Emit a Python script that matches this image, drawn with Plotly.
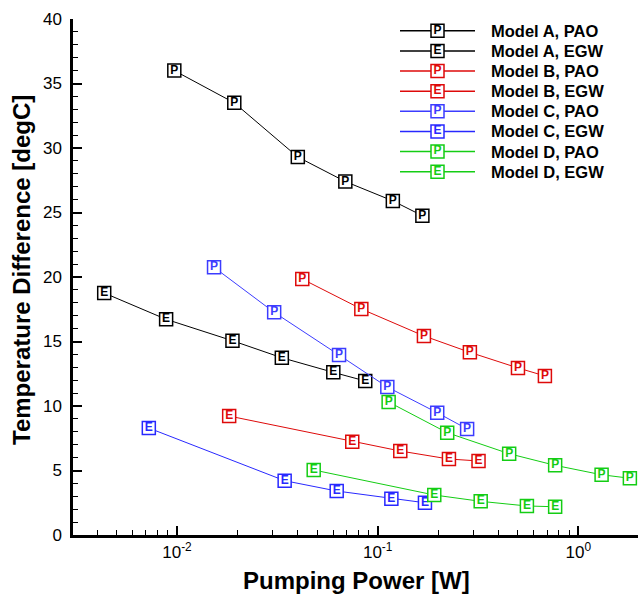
import plotly.graph_objects as go

# ---- data ----
series_names = ["Model A, PAO", "Model A, EGW", "Model B, PAO", "Model B, EGW",
                "Model C, PAO", "Model C, EGW", "Model D, PAO", "Model D, EGW"]
series_letters = ["P", "E", "P", "E", "P", "E", "P", "E"]

a_pao_x = [0.0097, 0.0193, 0.040, 0.069, 0.119, 0.167]
a_pao_y = [36.0, 33.5, 29.3, 27.4, 25.9, 24.75]
a_egw_x = [0.00434, 0.00883, 0.0189, 0.0333, 0.0601, 0.0867]
a_egw_y = [18.76, 16.72, 15.06, 13.74, 12.61, 11.94]
b_pao_x = [0.0421, 0.0829, 0.170, 0.288, 0.50, 0.681]
b_pao_y = [19.84, 17.52, 15.43, 14.16, 12.95, 12.33]
b_egw_x = [0.0182, 0.0747, 0.1296, 0.2265, 0.318]
b_egw_y = [9.22, 7.23, 6.51, 5.89, 5.74]
c_pao_x = [0.0153, 0.0305, 0.0642, 0.1117, 0.198, 0.279]
c_pao_y = [20.75, 17.26, 13.95, 11.47, 9.48, 8.22]
c_egw_x = [0.00724, 0.0344, 0.0625, 0.117, 0.172]
c_egw_y = [8.29, 4.21, 3.41, 2.81, 2.50]
d_pao_x = [0.1134, 0.222, 0.452, 0.766, 1.305, 1.805]
d_pao_y = [10.31, 7.93, 6.30, 5.40, 4.67, 4.40]
d_egw_x = [0.048, 0.1914, 0.326, 0.554, 0.766]
d_egw_y = [5.04, 3.10, 2.61, 2.25, 2.19]

x_tick_vals = [0.01, 0.1, 1]
x_tick_text = ["10<sup>-2</sup>", "10<sup>-1</sup>", "10<sup>0</sup>"]
y_tick_vals = [0, 5, 10, 15, 20, 25, 30, 35, 40]

series_x = [a_pao_x, a_egw_x, b_pao_x, b_egw_x, c_pao_x, c_egw_x, d_pao_x, d_egw_x]
series_y = [a_pao_y, a_egw_y, b_pao_y, b_egw_y, c_pao_y, c_egw_y, d_pao_y, d_egw_y]

# ---- styles ----
FONT = "Liberation Sans, Arial, sans-serif"
colors = ["rgb(0,0,0)", "rgb(0,0,0)", "rgb(222,10,10)", "rgb(222,10,10)",
          "rgb(60,60,255)", "rgb(40,40,255)", "rgb(20,205,20)", "rgb(20,205,20)"]

W, H = 638, 599
ML, MR, MT, MB = 73, 0, 19, 64
PW, PH = W - ML - MR, H - MT - MB


def px_to_paper_x(px):
    return (px - ML) / PW


def px_to_paper_y(py):
    return 1 - (py - MT) / PH


fig = go.Figure()

for name, letter, xs, ys, col in zip(series_names, series_letters, series_x, series_y, colors):
    fig.add_trace(go.Scatter(
        x=xs, y=ys, mode="lines+markers+text", name=name,
        text=[letter] * len(xs), textposition="middle center",
        textfont=dict(family=FONT, size=12, color=col, weight="bold"),
        line=dict(color=col, width=1),
        marker=dict(symbol="square", size=13, color="white",
                    line=dict(color=col, width=1.5)),
        cliponaxis=False, showlegend=False, xaxis="x", yaxis="y"))

# ---- custom legend on a helper axis (no visible lines/ticks) ----
for i, (name, letter, col) in enumerate(zip(series_names, series_letters, colors)):
    row = i + 1
    fig.add_trace(go.Scatter(
        x=[0, 1], y=[row, row], mode="lines",
        line=dict(color=col, width=1.5),
        cliponaxis=False, showlegend=False, xaxis="x2", yaxis="y2",
        hoverinfo="skip"))
    fig.add_trace(go.Scatter(
        x=[0.5], y=[row], mode="markers+text",
        text=[letter], textposition="middle center",
        textfont=dict(family=FONT, size=12, color=col, weight="bold"),
        marker=dict(symbol="square", size=13, color="white",
                    line=dict(color=col, width=1.5)),
        cliponaxis=False, showlegend=False, xaxis="x2", yaxis="y2",
        hoverinfo="skip"))
    row_py = 20.7 + (row - 0.5) * 20.125
    fig.add_annotation(x=px_to_paper_x(489), y=px_to_paper_y(row_py),
                       xref="paper", yref="paper", text="<b>%s</b>" % name,
                       showarrow=False, xanchor="left", yanchor="middle",
                       font=dict(family=FONT, size=16.5, color="black"))

# axis titles
fig.add_annotation(x=px_to_paper_x(356), y=px_to_paper_y(580), xref="paper", yref="paper",
                   text="<b>Pumping Power [W]</b>", showarrow=False,
                   xanchor="center", yanchor="middle",
                   font=dict(family=FONT, size=24, color="black"))
fig.add_annotation(x=px_to_paper_x(21), y=px_to_paper_y(270), xref="paper", yref="paper",
                   text="<b>Temperature Difference [degC]</b>", showarrow=False, textangle=-90,
                   xanchor="center", yanchor="middle",
                   font=dict(family=FONT, size=24, color="black"))

fig.update_layout(
    width=W, height=H,
    margin=dict(l=ML, r=MR, t=MT, b=MB, autoexpand=False),
    paper_bgcolor="white", plot_bgcolor="white",
    font=dict(family=FONT, color="black"),
    showlegend=False,
    xaxis=dict(
        type="log", range=[-2.518, 0.297], automargin=False,
        showline=True, linecolor="black", linewidth=2.5, showgrid=False, zeroline=False,
        ticks="inside", ticklen=9, tickwidth=2, tickcolor="black",
        tickvals=x_tick_vals, ticktext=x_tick_text,
        tickfont=dict(family=FONT, size=17),
        minor=dict(ticks="inside", ticklen=5, tickwidth=1, tickcolor="black",
                   dtick="D1", showgrid=False),
    ),
    yaxis=dict(
        range=[0, 40], automargin=False,
        showline=True, linecolor="black", linewidth=2.5, showgrid=False, zeroline=False,
        ticks="inside", ticklen=9, tickwidth=2, tickcolor="black",
        tickvals=y_tick_vals, tickfont=dict(family=FONT, size=17),
        ticklabelstandoff=5,
        minor=dict(ticks="inside", ticklen=5, tickwidth=1, tickcolor="black",
                   dtick=1, showgrid=False),
    ),
    xaxis2=dict(domain=[px_to_paper_x(400), px_to_paper_x(475)], range=[0, 1],
                showline=False, showticklabels=False, showgrid=False, zeroline=False,
                ticks="", anchor="y2", automargin=False),
    yaxis2=dict(domain=[px_to_paper_y(181.7), px_to_paper_y(20.7)], range=[8.5, 0.5],
                showline=False, showticklabels=False, showgrid=False, zeroline=False,
                ticks="", anchor="x2", automargin=False),
)

fig.write_html("out.html",
               config={"displayModeBar": False},
               post_script="document.body.style.margin='0px';document.body.style.padding='0px';"
                           "document.body.style.overflow='hidden';")
